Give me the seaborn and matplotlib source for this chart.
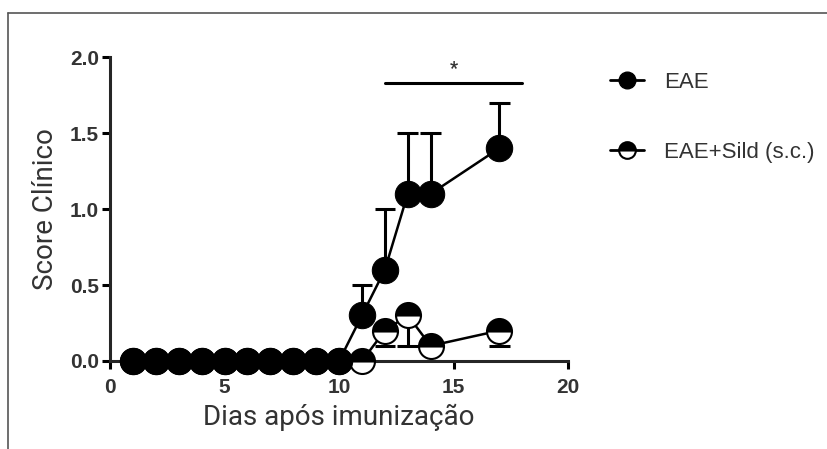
import numpy as np
import pandas as pd
import matplotlib
matplotlib.use('Agg')
import matplotlib.pyplot as plt
import seaborn as sns
from matplotlib.lines import Line2D

sns.set_style('ticks')
plt.rcParams['font.family'] = ['Roboto', 'DejaVu Sans']

## data
days = [1, 2, 3, 4, 5, 6, 7, 8, 9, 10, 11, 12, 13, 14, 17]
eae_mean = [0, 0, 0, 0, 0, 0, 0, 0, 0, 0, 0.3, 0.6, 1.1, 1.1, 1.4]
eae_sem = [0, 0, 0, 0, 0, 0, 0, 0, 0, 0, 0.2, 0.4, 0.4, 0.4, 0.3]
sild_mean = [0, 0, 0, 0, 0, 0, 0, 0, 0, 0, 0.0, 0.2, 0.3, 0.1, 0.2]
sild_sem = [0, 0, 0, 0, 0, 0, 0, 0, 0, 0, 0.0, 0.1, 0.2, 0.1, 0.1]
groups = ['EAE', 'EAE+Sild (s.c.)']
sig_range = [12, 18]

df = pd.concat([
    pd.DataFrame({'dia': days, 'score': eae_mean, 'sem': eae_sem, 'grupo': groups[0]}),
    pd.DataFrame({'dia': days, 'score': sild_mean, 'sem': sild_sem, 'grupo': groups[1]}),
])

fig = plt.figure(figsize=(8.28, 4.49), dpi=100)
ax = fig.add_axes([0.133, 0.196, 0.553, 0.677])

eae = df[(df.grupo == groups[0])]
sild = df[(df.grupo == groups[1])]

# one-sided error bars: EAE upward, Sild downward
e_up = eae[eae['sem'] > 0]
s_dn = sild[sild['sem'] > 0]
ax.vlines(e_up.dia, e_up.score, e_up.score + e_up['sem'], color='black', lw=2.2, zorder=2)
ax.hlines(e_up.score + e_up['sem'], e_up.dia - 0.45, e_up.dia + 0.45, color='black', lw=2.2, zorder=2)
ax.vlines(s_dn.dia, s_dn.score - s_dn['sem'], s_dn.score, color='black', lw=2.2, zorder=2)
ax.hlines(s_dn.score - s_dn['sem'], s_dn.dia - 0.45, s_dn.dia + 0.45, color='black', lw=2.2, zorder=2)

sns.lineplot(data=sild, x='dia', y='score', ax=ax, color='black', lw=1.8,
             marker='o', markersize=18, fillstyle='top', markerfacecolor='black',
             markerfacecoloralt='white', markeredgecolor='black', markeredgewidth=1.5,
             zorder=3, legend=False)
sns.lineplot(data=eae, x='dia', y='score', ax=ax, color='black', lw=1.8,
             marker='o', markersize=19, markerfacecolor='black',
             markeredgecolor='black', zorder=4, legend=False)

# significance bar
ax.plot(sig_range, [1.83, 1.83], color='black', lw=2.2, clip_on=False)
ax.text(np.mean(sig_range), 1.86, '*', ha='center', va='bottom', fontsize=13,
        fontweight='bold', color='#333333')

ax.set_xlim(0, 20)
ax.set_ylim(0, 2.0)
ax.set_xticks([0, 5, 10, 15, 20])
ax.set_yticks([0, 0.5, 1.0, 1.5, 2.0])
ax.set_yticklabels(['0.0', '0.5', '1.0', '1.5', '2.0'])
ax.set_xlabel('Dias após imunização', fontsize=20, color='#333333', labelpad=5)
ax.set_ylabel('Score Clínico', fontsize=20, color='#333333', labelpad=8)
sns.despine(ax=ax)
for s in ['left', 'bottom']:
    ax.spines[s].set_linewidth(2.2)
ax.tick_params(width=2.2, length=6, labelsize=15, colors='black')
ax.tick_params(axis='x', pad=6)
ax.tick_params(axis='y', pad=2)
for lab in ax.get_xticklabels() + ax.get_yticklabels():
    lab.set_fontweight('bold')
    lab.set_color('#333333')
    lab.set_family(['Liberation Sans', 'DejaVu Sans'])

for line in ax.get_lines():
    line.set_clip_on(False)

handles = [
    Line2D([], [], color='black', lw=2, marker='o', markersize=12,
           markerfacecolor='black', markeredgecolor='black'),
    Line2D([], [], color='black', lw=2, marker='o', markersize=12, fillstyle='top',
           markerfacecolor='black', markerfacecoloralt='white', markeredgecolor='black',
           markeredgewidth=1.5),
]
leg = fig.legend(handles, groups, loc='upper left', bbox_to_anchor=(0.712, 0.885),
                 frameon=False, labelspacing=2.2, handlelength=1.55,
                 handletextpad=0.9, labelcolor='#333333',
                 prop={'family': ['Liberation Sans', 'DejaVu Sans'], 'size': 16})

# frame lines of the original screenshot (top and left only)
fig.add_artist(Line2D([0.01, 1.0], [0.971, 0.971], color='#555555', lw=1.2))
fig.add_artist(Line2D([0.01, 0.01], [0.0, 0.971], color='#555555', lw=1.2))

fig.savefig('out.png', dpi=100)
